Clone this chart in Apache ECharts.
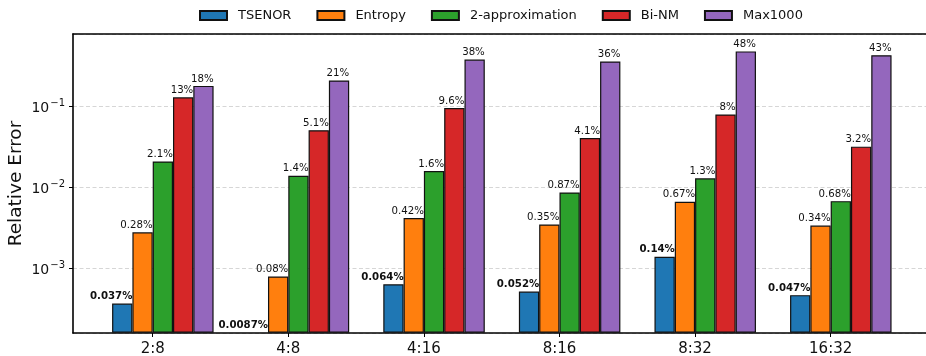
<!DOCTYPE html>
<html>
<head>
<meta charset="utf-8">
<script src="https://cdn.jsdelivr.net/npm/echarts@6/dist/echarts.min.js"></script>
<style>
  html, body { margin: 0; padding: 0; background: #fff; }
  #chart { width: 926px; height: 356px; }
</style>
</head>
<body>
<div id="chart"></div>
<script>
// Sparsity patterns (N:M) on the x axis
const categories = ['2:8', '4:8', '4:16', '8:16', '8:32', '16:32'];

// Relative error of each method, in percent
const tsenor   = [0.037, 0.0087, 0.064, 0.052, 0.14, 0.047];
const entropy  = [0.28, 0.08, 0.42, 0.35, 0.67, 0.34];
const approx2  = [2.1, 1.4, 1.6, 0.87, 1.3, 0.68];
const biNM     = [13, 5.1, 9.6, 4.1, 8, 3.2];
const max1000  = [18, 21, 38, 36, 48, 43];

const methodNames = ['TSENOR', 'Entropy', '2-approximation', 'Bi-NM', 'Max1000'];
const methodValues = [tsenor, entropy, approx2, biNM, max1000];
const methodColors = ['#1f77b4', '#ff7f0e', '#2ca02c', '#d62728', '#9467bd'];

const FONT = 'DejaVu Sans';
const Y_MIN = 1.603e-4;
const Y_MAX = 0.787;

function makeSeries(name, pcts, color, bold) {
  return {
    name: name,
    type: 'bar',
    barWidth: 20.3,
    barGap: '0%',
    // bars below the axis floor are not clipped away, so their value label stays
    clip: false,
    data: pcts.map((p, i) => {
      const v = p / 100;
      const item = { value: [i, v] };
      if (v < Y_MIN) {
        item.itemStyle = { color: 'rgba(0,0,0,0)', borderWidth: 0 };
      }
      return item;
    }),
    itemStyle: { color: color, borderColor: '#111', borderWidth: 1.2 },
    label: {
      show: true,
      position: ['100%', 0],
      align: 'right',
      verticalAlign: 'bottom',
      offset: [0, -2],
      fontFamily: FONT,
      fontSize: 10.2,
      fontWeight: bold ? 'bold' : 'normal',
      color: '#111',
      formatter: (p) => pcts[p.dataIndex] + '%'
    }
  };
}

const series = [
  // empty slot so each group sits half a bar to the right of its tick
  { name: '_pad', type: 'bar', barWidth: 20.3, barGap: '0%', data: [] }
].concat(methodNames.map((n, k) => makeSeries(n, methodValues[k], methodColors[k], k === 0)));

const chart = echarts.init(document.getElementById('chart'), null, { renderer: 'canvas' });
chart.setOption({
  animation: false,
  backgroundColor: '#fff',
  textStyle: { fontFamily: FONT },
  legend: {
    data: methodNames,
    left: 199,
    top: 9,
    padding: 0,
    itemWidth: 27,
    itemHeight: 9,
    itemGap: 25,
    icon: 'rect',
    textStyle: { fontFamily: FONT, fontSize: 13, color: '#111', padding: [0, 0, 0, 6] }
  },
  grid: { left: 73, right: 0, top: 34, bottom: 23, outerBoundsMode: 'none', containLabel: false },
  xAxis: [
    {
      type: 'value',
      min: -0.5878,
      max: 5.7031,
      axisLine: { show: true, onZero: false, lineStyle: { color: '#000', width: 1.6 } },
      axisTick: { show: true, length: 4, customValues: [0, 1, 2, 3, 4, 5], lineStyle: { color: '#000', width: 1 } },
      axisLabel: {
        customValues: [0, 1, 2, 3, 4, 5],
        formatter: (v) => categories[Math.round(v)],
        fontFamily: FONT, fontSize: 15, color: '#111', margin: 9
      },
      splitLine: { show: false }
    },
    {
      type: 'value',
      position: 'top',
      min: -0.5878,
      max: 5.7031,
      axisLine: { show: true, onZero: false, lineStyle: { color: '#000', width: 1.6 } },
      axisTick: { show: false },
      axisLabel: { show: false },
      splitLine: { show: false }
    }
  ],
  yAxis: {
    type: 'log',
    logBase: 10,
    min: Y_MIN,
    max: Y_MAX,
    startValue: Y_MIN * 1.01,
    name: 'Relative Error',
    nameLocation: 'middle',
    nameGap: 47,
    nameMoveOverlap: false,
    nameTextStyle: { fontFamily: FONT, fontSize: 18.5, color: '#111' },
    axisLine: { show: true, onZero: false, lineStyle: { color: '#000', width: 1.6 } },
    axisTick: { show: true, length: 4, lineStyle: { color: '#000', width: 1 } },
    axisLabel: {
      margin: 8,
      showMinLabel: false,
      showMaxLabel: false,
      formatter: (v) => {
        const lg = Math.log10(v);
        const e = Math.round(lg);
        if (Math.abs(lg - e) > 1e-6) return '';
        return '{b|10}{s|\u2212' + (-e) + '}';
      },
      rich: {
        b: { fontFamily: FONT, fontSize: 14, color: '#111', lineHeight: 17, verticalAlign: 'bottom' },
        s: { fontFamily: FONT, fontSize: 10, color: '#111', lineHeight: 17, verticalAlign: 'top', padding: [0, 0, 0, 1] }
      }
    },
    splitLine: { show: true, lineStyle: { color: '#d6d6d6', width: 1, type: [4, 2.5] } }
  },
  series: series
});
</script>
</body>
</html>
